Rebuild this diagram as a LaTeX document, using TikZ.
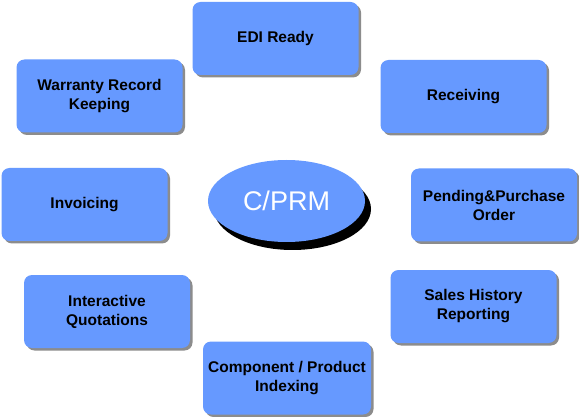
\documentclass[tikz,border=0pt]{standalone}
\usepackage{fontspec}
\setmainfont{Liberation Sans}
\usepackage{tikz}
\usetikzlibrary{positioning,shadows,shapes.geometric}

\definecolor{boxblue}{RGB}{102,153,255}
\definecolor{shadegray}{RGB}{140,140,140}

\begin{document}
\begin{tikzpicture}[
  x=1pt,y=-1pt,
  font=\fontsize{15.5}{19}\selectfont\bfseries,
  mod/.style={fill=boxblue,rounded corners=8pt,minimum width=166pt,
              minimum height=73pt,align=center,inner sep=2pt,
              drop shadow={shadow xshift=2.5pt,shadow yshift=-2.5pt,
                           fill=shadegray,opacity=1}},
  hub/.style={ellipse,fill=boxblue,minimum width=157pt,minimum height=82pt,
              text=white,font=\fontsize{27}{30}\selectfont,
              drop shadow={shadow xshift=6pt,shadow yshift=-8pt,
                           fill=black,opacity=1}},
]
  \useasboundingbox[fill=white] (0,0) rectangle (579,417);

  \node[hub] (crm) at (286.5,201) {C/PRM};

  \node[mod] (edi)  at (275.5,38.5) {EDI Ready};
  \node[mod] (recv) at (463.5,96.5) {Receiving};
  \node[mod] (pend) at (494,205)    {Pending\&Purchase\\Order};
  \node[mod] (sale) at (473.5,306.5) {Sales History\\Reporting};
  \node[mod,minimum width=168pt] (comp) at (287,378) {Component / Product\\Indexing};
  \node[mod] (quot) at (107,311.5)  {Interactive\\Quotations};
  \node[mod] (inv)  at (84.5,204.5) {Invoicing};
  \node[mod] (warr) at (99.5,96)    {Warranty Record\\Keeping};
\end{tikzpicture}
\end{document}
